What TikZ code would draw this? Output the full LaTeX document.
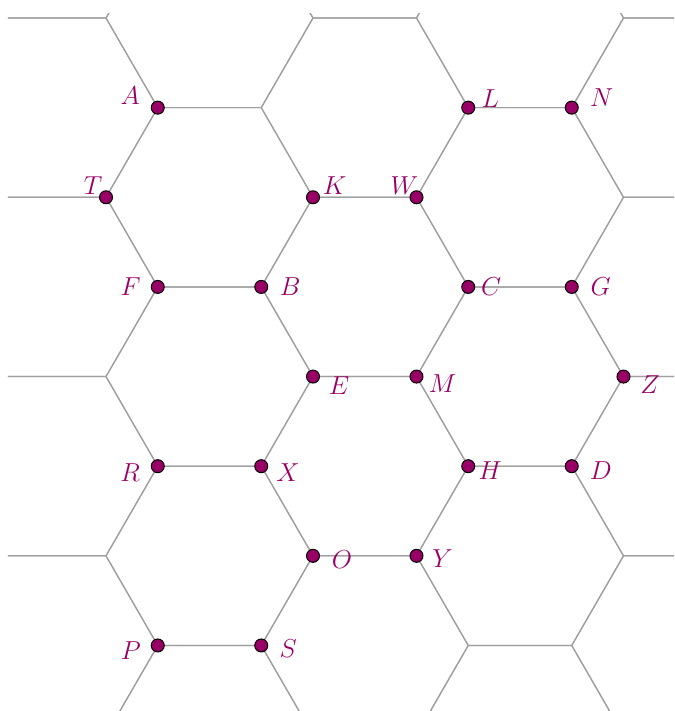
\documentclass[tikz,border=0pt]{standalone}
\usepackage{fix-cm}
\usepackage{tikz}
\usetikzlibrary{positioning}
\usepackage{xcolor}
\definecolor{grid}{HTML}{A0A0A0}
\definecolor{pointc}{HTML}{990066}

\tikzset{
  pt/.style={circle, fill=pointc, draw=black, line width=0.5pt, inner sep=0pt, minimum size=6.5pt},
  every label/.style={text=pointc, font=\fontsize{13}{15}\selectfont, inner sep=0pt},
  honey/.style={grid, line width=0.6pt},
}

\begin{document}
\begin{tikzpicture}[x=51.75pt, y=-44.82pt]
  \useasboundingbox (-1.0242,-0.2008) rectangle (5.488,7.731);

  % honeycomb
  \begin{scope}
    \clip (-0.947,-0.05) rectangle (5.488,7.731);
    \foreach \cx in {1,4,7} {
      \foreach \r in {0,2,...,8} {
        \draw[honey] (\cx-1,\r) -- (\cx-0.5,\r-1) -- (\cx+0.5,\r-1) -- (\cx+1,\r)
          -- (\cx+0.5,\r+1) -- (\cx-0.5,\r+1) -- cycle;
      }
    }
    \foreach \cx in {-0.5,2.5,5.5} {
      \foreach \r in {-1,1,...,9} {
        \draw[honey] (\cx-1,\r) -- (\cx-0.5,\r-1) -- (\cx+0.5,\r-1) -- (\cx+1,\r)
          -- (\cx+0.5,\r+1) -- (\cx-0.5,\r+1) -- cycle;
      }
    }
  \end{scope}

  % points
  \node[pt, label={[xshift=-13.8pt,yshift=6pt]center:$A$}] (A) at (0.5,1) {};
  \node[pt, label={[xshift=11pt,yshift=4.5pt]center:$L$}] (L) at (3.5,1) {};
  \node[pt, label={[xshift=15pt,yshift=5pt]center:$N$}] (N) at (4.5,1) {};
  \node[pt, label={[xshift=-6.5pt,yshift=6pt]center:$T$}] (T) at (0,2) {};
  \node[pt, label={[xshift=10.8pt,yshift=5.8pt]center:$K$}] (K) at (2,2) {};
  \node[pt, label={[xshift=-6pt,yshift=6pt]center:$W$}] (W) at (3,2) {};
  \node[pt, label={[xshift=-13.5pt]center:$F$}] (F) at (0.5,3) {};
  \node[pt, label={[xshift=14.5pt]center:$B$}] (B) at (1.5,3) {};
  \node[pt, label={[xshift=11.5pt]center:$C$}] (C) at (3.5,3) {};
  \node[pt, label={[xshift=14.5pt]center:$G$}] (G) at (4.5,3) {};
  \node[pt, label={[xshift=13pt,yshift=-4.5pt]center:$E$}] (E) at (2,4) {};
  \node[pt, label={[xshift=13pt,yshift=-3.5pt]center:$M$}] (M) at (3,4) {};
  \node[pt, label={[xshift=13.3pt,yshift=-4pt]center:$Z$}] (Z) at (5,4) {};
  \node[pt, label={[xshift=-13.8pt,yshift=-3pt]center:$R$}] (R) at (0.5,5) {};
  \node[pt, label={[xshift=13.3pt,yshift=-3pt]center:$X$}] (X) at (1.5,5) {};
  \node[pt, label={[xshift=11pt,yshift=-2pt]center:$H$}] (H) at (3.5,5) {};
  \node[pt, label={[xshift=14.5pt,yshift=-2pt]center:$D$}] (D) at (4.5,5) {};
  \node[pt, label={[xshift=14.5pt,yshift=-2pt]center:$O$}] (O) at (2,6) {};
  \node[pt, label={[xshift=13pt,yshift=-1.5pt]center:$Y$}] (Y) at (3,6) {};
  \node[pt, label={[xshift=-13.5pt,yshift=-2.5pt]center:$P$}] (P) at (0.5,7) {};
  \node[pt, label={[xshift=13.5pt,yshift=-1.5pt]center:$S$}] (S) at (1.5,7) {};
\end{tikzpicture}
\end{document}
